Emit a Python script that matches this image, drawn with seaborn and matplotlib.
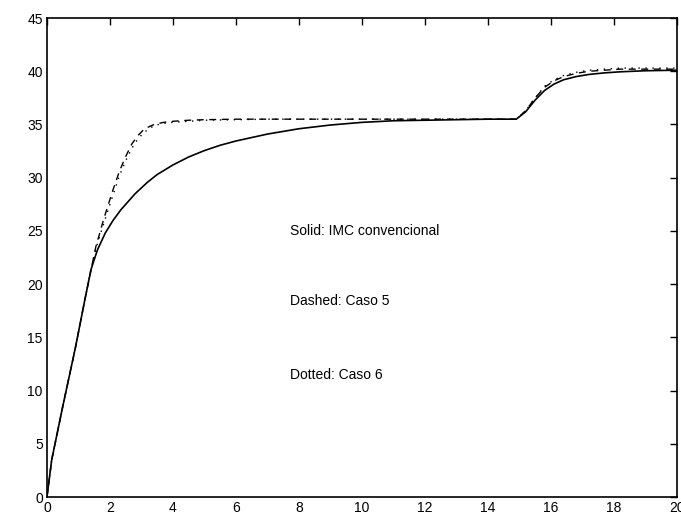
import matplotlib
matplotlib.use("Agg")
import matplotlib.pyplot as plt
import seaborn as sns
import pandas as pd

# ---- data ----
t_solid = [0, 0.15, 0.5, 0.9, 1.2, 1.4, 1.6, 1.85, 2.1, 2.35, 2.8, 3.2, 3.5, 4.0, 4.5, 5.0,
           5.5, 6.0, 7.0, 8.0, 9.0, 10.0, 11.0, 12.0, 13.0, 14.0, 14.9, 15.2, 15.5, 15.8,
           16.1, 16.4, 16.8, 17.2, 17.7, 18.2, 19.0, 20.0]
y_solid = [0, 3.5, 8.5, 14.0, 18.5, 21.4, 23.2, 24.8, 26.0, 27.0, 28.5, 29.6, 30.3, 31.2,
           31.95, 32.55, 33.05, 33.45, 34.1, 34.6, 34.95, 35.2, 35.35, 35.4, 35.45, 35.5,
           35.5, 36.2, 37.3, 38.2, 38.8, 39.2, 39.5, 39.7, 39.85, 39.95, 40.05, 40.1]

t_dashed = [0, 0.15, 0.5, 0.9, 1.2, 1.4, 1.55, 1.8, 2.1, 2.3, 2.5, 2.7, 2.9, 3.1, 3.4, 3.7,
            4.0, 4.5, 5.0, 6.0, 7.0, 8.0, 10.0, 12.0, 14.0, 14.9, 15.2, 15.5, 15.8, 16.1,
            16.4, 16.8, 17.2, 17.7, 18.2, 19.0, 20.0]
y_dashed = [0, 3.5, 8.5, 14.0, 18.5, 21.4, 23.5, 26.1, 28.9, 30.6, 32.0, 33.2, 34.0, 34.6,
            35.0, 35.2, 35.3, 35.4, 35.45, 35.5, 35.5, 35.5, 35.5, 35.5, 35.5, 35.5, 36.3,
            37.5, 38.5, 39.1, 39.5, 39.8, 40.0, 40.1, 40.2, 40.2, 40.2]

t_dotted = [0, 0.15, 0.5, 0.9, 1.2, 1.4, 1.55, 1.8, 2.1, 2.3, 2.5, 2.7, 2.9, 3.1, 3.4, 3.7,
            4.0, 4.5, 5.0, 6.0, 7.0, 8.0, 10.0, 12.0, 14.0, 14.9, 15.2, 15.5, 15.8, 16.1,
            16.4, 16.8, 17.2, 17.7, 18.2, 19.0, 20.0]
y_dotted = [0, 3.5, 8.5, 14.0, 18.5, 21.4, 23.3, 25.7, 28.4, 30.2, 31.6, 32.8, 33.7, 34.3,
            34.9, 35.1, 35.2, 35.3, 35.4, 35.45, 35.5, 35.5, 35.5, 35.5, 35.5, 35.5, 36.3,
            37.5, 38.6, 39.2, 39.6, 39.9, 40.1, 40.2, 40.3, 40.3, 40.3]

labels = ["Solid: IMC convencional", "Dashed: Caso 5", "Dotted: Caso 6"]
label_y = [25.0, 18.4, 11.5]
x_ticks = list(range(0, 21, 2))
y_ticks = list(range(0, 46, 5))

sns.set_style("white")
plt.rcParams["font.family"] = ["Liberation Sans", "DejaVu Sans"]

fig = plt.figure(figsize=(6.81, 5.31), dpi=100)
ax = fig.add_axes([0.069, 0.064, 0.925, 0.902])

df_s = pd.DataFrame({"t": t_solid, "y": y_solid})
df_d = pd.DataFrame({"t": t_dashed, "y": y_dashed})
df_o = pd.DataFrame({"t": t_dotted, "y": y_dotted})

sns.lineplot(data=df_s, x="t", y="y", ax=ax, color="black", linewidth=1.2)
sns.lineplot(data=df_d, x="t", y="y", ax=ax, color="black", linewidth=1.0,
             linestyle=(0, (5, 4)))
sns.lineplot(data=df_o, x="t", y="y", ax=ax, color="black", linewidth=1.0,
             linestyle=(0, (1, 4)))

for txt, yy in zip(labels, label_y):
    ax.text(7.7, yy, txt, fontsize=10, va="center", ha="left", color="black")

ax.set_xlim(0, 20)
ax.set_ylim(0, 45)
ax.set_xticks(x_ticks)
ax.set_yticks(y_ticks)
ax.set_xlabel("")
ax.set_ylabel("")
ax.tick_params(direction="in", top=True, right=True, length=5, width=1,
               labelsize=10, colors="black", pad=3)
for s in ax.spines.values():
    s.set_color("black")
    s.set_linewidth(1.2)
    s.set_visible(True)

fig.savefig("out.png", dpi=100)
